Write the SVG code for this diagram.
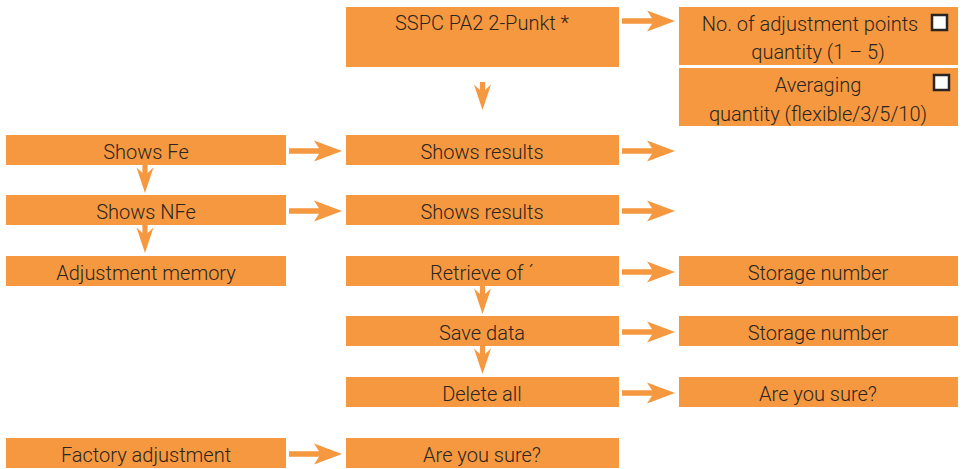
<svg xmlns="http://www.w3.org/2000/svg" width="963" height="469" viewBox="0 0 963 469">
<style>
.box{fill:#F5983F;}
.t{font-family:Roboto,"Liberation Sans",sans-serif;font-size:20px;font-weight:300;fill:#2a2522;text-anchor:middle;}
.arr{fill:#F5983F;}
.cb{fill:#ffffff;stroke:#2a2522;stroke-width:2.5;}
</style>
<defs>
<polygon id="ha" points="0,-2.8 30,-2.8 25,-10.5 53,0 25,10.5 30,2.8 0,2.8"/>
<polygon id="va" points="-8.5,2.5 -2.6,8 -2.6,0 2.6,0 2.6,8 8.5,2.5 0,28"/>
</defs>
<rect width="963" height="469" fill="#ffffff"/>
<g id="sspc"><rect class="box" x="346" y="7" width="273" height="60"/><text class="t" x="482" y="30">SSPC PA2 2-Punkt *</text></g>
<g id="adjpoints"><rect class="box" x="679" y="7" width="279" height="58"/><text class="t" x="810" y="31">No. of adjustment points</text><text class="t" x="818" y="59">quantity (1 – 5)</text><rect class="cb" x="932" y="15" width="15" height="15"/></g>
<g id="averaging"><rect class="box" x="679" y="68" width="279" height="58"/><text class="t" x="818" y="92">Averaging</text><text class="t" x="818" y="121">quantity (flexible/3/5/10)</text><rect class="cb" x="934" y="75" width="15" height="15"/></g>
<g id="showsfe"><rect class="box" x="6" y="135" width="280" height="30"/><text class="t" x="146" y="159">Shows Fe</text></g>
<g id="results1"><rect class="box" x="346" y="135" width="273" height="30"/><text class="t" x="482" y="159">Shows results</text></g>
<g id="showsnfe"><rect class="box" x="6" y="195" width="280" height="30"/><text class="t" x="146" y="219">Shows NFe</text></g>
<g id="results2"><rect class="box" x="346" y="195" width="273" height="30"/><text class="t" x="482" y="219">Shows results</text></g>
<g id="adjmem"><rect class="box" x="6" y="256" width="280" height="30"/><text class="t" x="146" y="280">Adjustment memory</text></g>
<g id="retrieve"><rect class="box" x="346" y="256" width="273" height="30"/><text class="t" x="482" y="280">Retrieve of ´</text></g>
<g id="storage1"><rect class="box" x="679" y="256" width="279" height="30"/><text class="t" x="818" y="280">Storage number</text></g>
<g id="savedata"><rect class="box" x="346" y="316" width="273" height="30"/><text class="t" x="482" y="340">Save data</text></g>
<g id="storage2"><rect class="box" x="679" y="316" width="279" height="30"/><text class="t" x="818" y="340">Storage number</text></g>
<g id="deleteall"><rect class="box" x="346" y="377" width="273" height="30"/><text class="t" x="482" y="401">Delete all</text></g>
<g id="sure1"><rect class="box" x="679" y="377" width="279" height="30"/><text class="t" x="818" y="401">Are you sure?</text></g>
<g id="factory"><rect class="box" x="6" y="438" width="280" height="30"/><text class="t" x="146" y="462">Factory adjustment</text></g>
<g id="sure2"><rect class="box" x="346" y="438" width="273" height="30"/><text class="t" x="482" y="462">Are you sure?</text></g>
<g id="connectors" class="arr">
<use href="#ha" x="622" y="21"/>
<use href="#va" x="482.5" y="82"/>
<use href="#ha" x="289" y="151"/>
<use href="#ha" x="622" y="151"/>
<use href="#va" x="145" y="165"/>
<use href="#ha" x="289" y="211"/>
<use href="#ha" x="622" y="211"/>
<use href="#va" x="145" y="225"/>
<use href="#ha" x="622" y="272"/>
<use href="#va" x="482.5" y="286"/>
<use href="#ha" x="622" y="332"/>
<use href="#va" x="482.5" y="346"/>
<use href="#ha" x="622" y="393"/>
<use href="#ha" x="289" y="454"/>
</g>
</svg>
